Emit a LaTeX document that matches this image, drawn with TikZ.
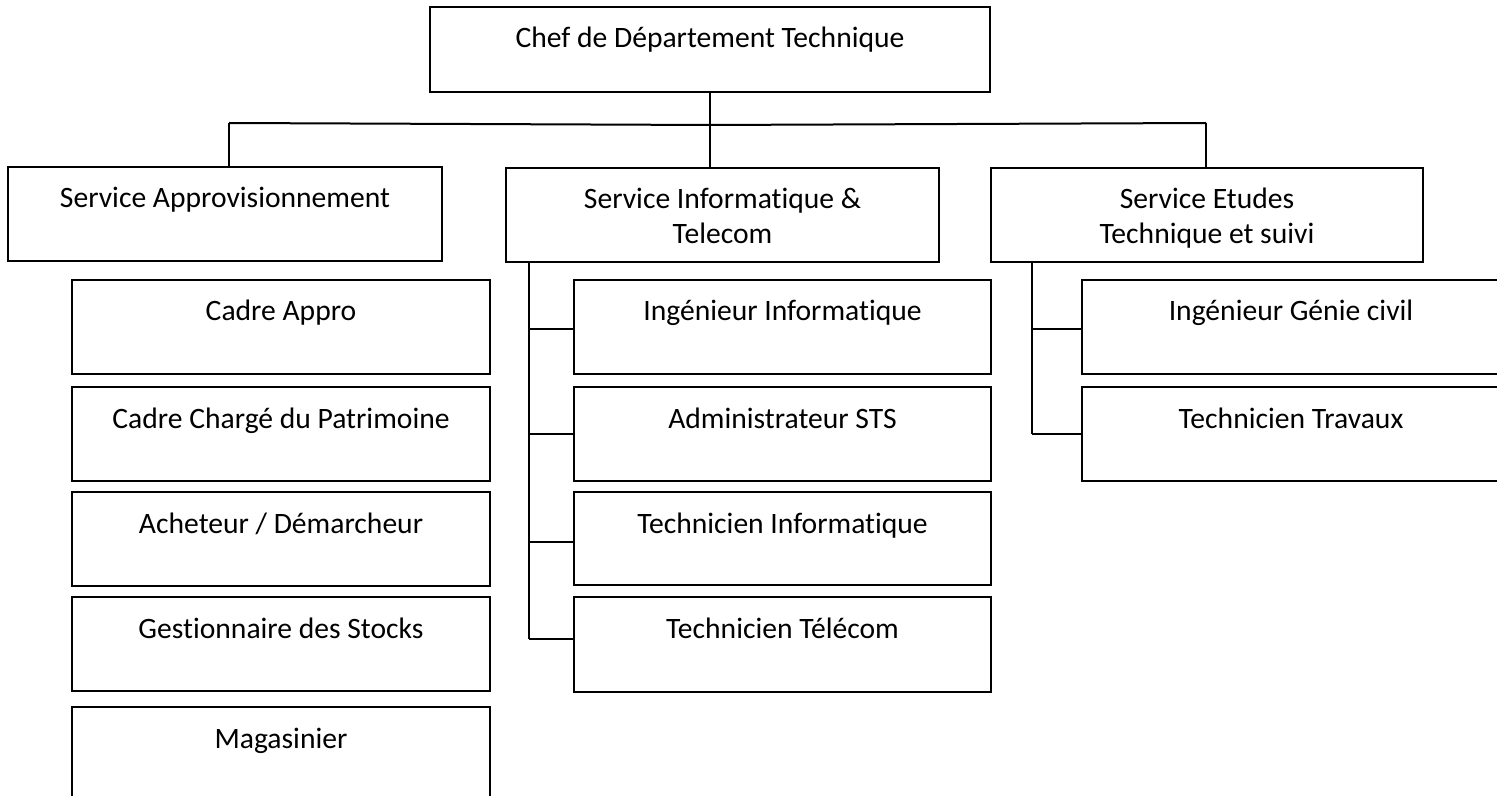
\documentclass[tikz,border=0pt]{standalone}
\usepackage{fontspec}
\setmainfont{Carlito}[Ligatures={NoCommon}]
\begin{document}
\begin{tikzpicture}[x=0.5pt,y=-0.5pt,
  boxst/.style={draw=black,line width=1pt,inner sep=0pt,outer sep=0pt,anchor=north west,minimum height=47pt},
  txt/.style={anchor=base,inner sep=0pt,align=center,font=\fontsize{14.8pt}{17.5pt}\selectfont},
  conn/.style={draw=black,line width=1pt}]
\useasboundingbox (0,0) rectangle (1497,796);
% boxes
\node[boxst,minimum width=280pt,minimum height=42.5pt] (top) at (430,7) {};
\node[boxst,minimum width=217pt] (sa) at (8,167) {};
\node[boxst,minimum width=216.5pt] (si) at (506,168) {};
\node[boxst,minimum width=216pt] (se) at (991,168) {};
\node[boxst,minimum width=209pt] (ca) at (72,280) {};
\node[boxst,minimum width=209pt] (cc) at (72,387) {};
\node[boxst,minimum width=209pt] (ad) at (72,492) {};
\node[boxst,minimum width=209pt] (gs) at (72,597) {};
\node[boxst,minimum width=209pt,minimum height=52pt] (mg) at (72,707) {};
\node[boxst,minimum width=208.5pt] (ii) at (574,280) {};
\node[boxst,minimum width=208.5pt] (as) at (574,387) {};
\node[boxst,minimum width=208.5pt,minimum height=46.5pt] (ti) at (574,492) {};
\node[boxst,minimum width=208.5pt,minimum height=47.5pt] (tt) at (574,597) {};
\node[boxst,minimum width=209pt] (ig) at (1082,280) {};
\node[boxst,minimum width=209pt] (tv) at (1082,387) {};
% texts
\node[txt] (top-t) at ([yshift=-20.5pt]top.north) {Chef de Département Technique};
\node[txt] (sa-t) at ([yshift=-20.5pt]sa.north) {Service Approvisionnement};
\node[txt] (si-t) at ([yshift=-38pt]si.north) {Service Informatique \&\\Telecom};
\node[txt] (se-t) at ([yshift=-38pt]se.north) {Service Etudes\\Technique et suivi};
\node[txt] (ca-t) at ([yshift=-20.5pt]ca.north) {Cadre Appro};
\node[txt] (cc-t) at ([yshift=-20.5pt]cc.north) {Cadre Chargé du Patrimoine};
\node[txt] (ad-t) at ([yshift=-20.5pt]ad.north) {Acheteur / Démarcheur};
\node[txt] (gs-t) at ([yshift=-20.5pt]gs.north) {Gestionnaire des Stocks};
\node[txt] (mg-t) at ([yshift=-20.5pt]mg.north) {Magasinier};
\node[txt] (ii-t) at ([yshift=-20.5pt]ii.north) {Ingénieur Informatique};
\node[txt] (as-t) at ([yshift=-20.5pt]as.north) {Administrateur STS};
\node[txt] (ti-t) at ([yshift=-20.5pt]ti.north) {Technicien Informatique};
\node[txt] (tt-t) at ([yshift=-20.5pt]tt.north) {Technicien Télécom};
\node[txt] (ig-t) at ([yshift=-20.5pt]ig.north) {Ingénieur Génie civil};
\node[txt] (tv-t) at ([yshift=-20.5pt]tv.north) {Technicien Travaux};
% connectors
\coordinate (hl) at (229,123);
\coordinate (hm) at (710,125);
\coordinate (hr) at (1206,123);
\draw[conn] (top.south) -- (hm);
\draw[conn] (hl) -- (hm) -- (hr);
\draw[conn] (hl) -- (hl |- sa.north);
\draw[conn] (hm) -- (hm |- si.north);
\draw[conn] (hr) -- (hr |- se.north);
% middle branch
\coordinate (mv) at (529,639);
\draw[conn] (si.south -| mv) -- (mv);
\draw[conn] ([yshift=-1pt]ii.west) -- ([yshift=-1pt]ii.west -| mv);
\draw[conn] (as.west) -- (mv |- 0,434);
\draw[conn] ([yshift=-1.75pt]ti.west) -- ([yshift=-1.75pt]ti.west -| mv);
\draw[conn] (tt.west |- mv) -- (mv);
% right branch
\coordinate (rv) at (1032,434);
\draw[conn] (se.south -| rv) -- (rv);
\draw[conn] ([yshift=-1pt]ig.west) -- ([yshift=-1pt]ig.west -| rv);
\draw[conn] (tv.west |- rv) -- (rv);
\end{tikzpicture}
\end{document}
